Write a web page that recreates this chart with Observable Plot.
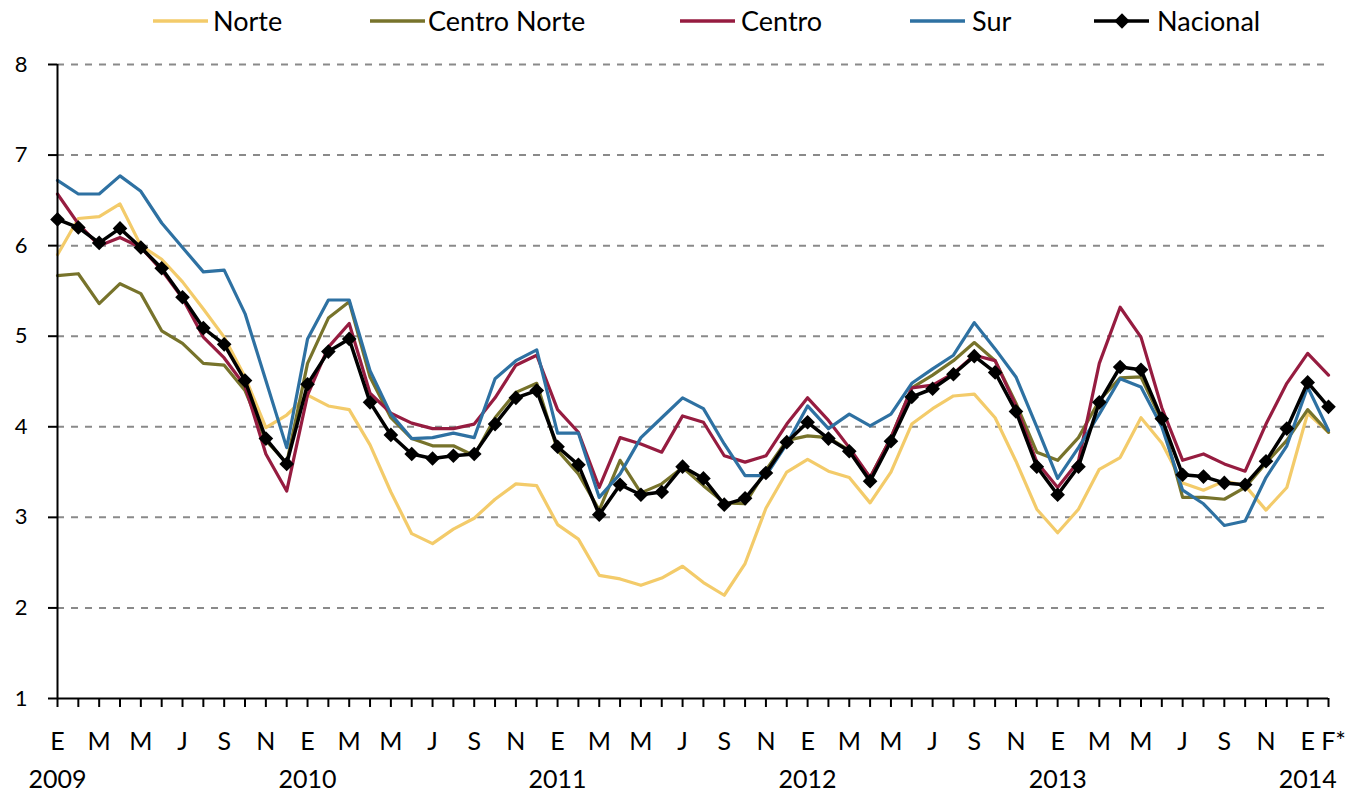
<!DOCTYPE html>
<html>
<head>
<meta charset="utf-8">
<script src="https://cdn.jsdelivr.net/npm/d3@7"></script>
<script src="https://cdn.jsdelivr.net/npm/@observablehq/plot@0.6"></script>
<style>
  html, body { margin: 0; padding: 0; background: #fff; }
  #wrap { width: 1355px; font-family: Lato, "Open Sans", sans-serif; }
</style>
</head>
<body>
<div id="wrap"></div>
<script>
// ---- Data (monthly, Jan 2009 .. Feb 2014) ----
const monthLetters = ["E","F","M","A","M","J","J","A","S","O","N","D"];
const lastMonthLabel = "F*";
const yearLabels = ["2009","2010","2011","2012","2013","2014"];
const yTicks = [1,2,3,4,5,6,7,8];

const seriesNames = ["Norte","Centro Norte","Centro","Sur","Nacional"];
const seriesColors = ["#F3CB6A","#77732B","#961C40","#2E71A2","#000000"];

const norte = [5.90,6.30,6.32,6.46,6.00,5.85,5.60,5.30,4.99,4.55,
  3.99,4.13,4.35,4.23,4.19,3.80,3.28,2.82,2.71,2.87,
  2.99,3.20,3.37,3.35,2.92,2.76,2.36,2.32,2.25,2.33,
  2.46,2.28,2.14,2.49,3.10,3.50,3.64,3.51,3.44,3.16,
  3.50,4.03,4.20,4.34,4.36,4.10,3.62,3.09,2.83,3.09,
  3.53,3.66,4.10,3.82,3.38,3.30,3.40,3.35,3.08,3.33,
  4.15,3.94];
const centroNorte = [5.67,5.69,5.36,5.58,5.47,5.06,4.92,4.70,4.68,4.40,
  3.85,3.60,4.70,5.20,5.38,4.55,4.10,3.87,3.79,3.79,
  3.68,4.10,4.38,4.48,3.74,3.48,3.08,3.63,3.27,3.37,
  3.55,3.35,3.16,3.15,3.52,3.85,3.90,3.88,3.74,3.44,
  3.88,4.43,4.57,4.73,4.93,4.73,4.26,3.72,3.63,3.88,
  4.29,4.54,4.55,4.07,3.22,3.22,3.20,3.33,3.60,3.85,
  4.19,3.94];
const centro = [6.57,6.24,6.00,6.09,5.98,5.73,5.42,4.99,4.76,4.45,
  3.70,3.29,4.35,4.88,5.14,4.37,4.15,4.04,3.98,3.98,
  4.03,4.32,4.68,4.79,4.19,3.94,3.33,3.88,3.81,3.72,
  4.12,4.05,3.68,3.61,3.68,4.03,4.32,4.07,3.77,3.44,
  3.88,4.43,4.46,4.59,4.79,4.73,4.23,3.61,3.33,3.62,
  4.70,5.32,4.99,4.21,3.63,3.70,3.59,3.51,4.03,4.48,
  4.81,4.57];
const sur = [6.72,6.57,6.57,6.77,6.60,6.25,5.98,5.71,5.73,5.25,
  4.51,3.77,4.97,5.40,5.40,4.62,4.14,3.87,3.88,3.93,
  3.88,4.53,4.73,4.85,3.93,3.93,3.22,3.48,3.88,4.10,
  4.32,4.20,3.81,3.46,3.46,3.81,4.23,3.98,4.14,4.01,
  4.14,4.48,4.64,4.79,5.15,4.86,4.55,4.00,3.43,3.77,
  4.14,4.53,4.44,4.00,3.30,3.15,2.91,2.96,3.44,3.79,
  4.44,3.96];
const nacional = [6.29,6.20,6.03,6.19,5.98,5.75,5.43,5.09,4.91,4.51,
  3.87,3.59,4.47,4.83,4.97,4.27,3.91,3.70,3.65,3.68,
  3.70,4.03,4.32,4.40,3.78,3.58,3.03,3.36,3.25,3.28,
  3.56,3.43,3.14,3.21,3.49,3.83,4.05,3.87,3.73,3.40,
  3.84,4.33,4.42,4.58,4.78,4.60,4.17,3.56,3.25,3.56,
  4.27,4.66,4.63,4.09,3.47,3.45,3.38,3.36,3.62,3.98,
  4.49,4.22];

const seriesValues = [norte, centroNorte, centro, sur, nacional];
const n = nacional.length;
const idx = d3.range(n);

const rows = [];
seriesValues.forEach((vals, s) => vals.forEach((v, i) => rows.push({serie: seriesNames[s], i, v})));
const natRows = rows.filter(d => d.serie === "Nacional");

const labelIdx = idx.filter(i => i % 2 === 0);
const yearIdx = yearLabels.map((_, k) => k * 12);

// ---- Legend (SVG above the chart) ----
const legendPos = [
  {lx: 153, tx: 213}, {lx: 370, tx: 428}, {lx: 680, tx: 741},
  {lx: 910, tx: 972}, {lx: 1094, tx: 1157}
];
const legend = d3.create("svg").attr("width", 1355).attr("height", 45)
  .style("display", "block").style("font-family", "Lato, 'Open Sans', sans-serif");
seriesNames.forEach((name, k) => {
  const g = legend.append("g");
  const p = legendPos[k];
  g.append("line").attr("x1", p.lx).attr("x2", p.lx + 55).attr("y1", 21).attr("y2", 21)
    .attr("stroke", seriesColors[k]).attr("stroke-width", 3.5);
  if (name === "Nacional") {
    g.append("path").attr("d", d3.symbol(d3.symbolDiamond2, 150)())
      .attr("transform", `translate(${p.lx + 28},21)`).attr("fill", "#000");
  }
  g.append("text").attr("x", p.tx).attr("y", 31).attr("font-size", 27).attr("fill", "#000").text(name);
});
document.getElementById("wrap").append(legend.node());

// ---- Chart ----
const chart = Plot.plot({
  width: 1355,
  height: 750,
  marginTop: 19,
  marginBottom: 97,
  marginLeft: 57,
  marginRight: 27,
  style: {fontFamily: "Lato, 'Open Sans', sans-serif", color: "#000", background: "#fff"},
  x: {type: "linear", domain: [0, n - 1], label: null},
  y: {domain: [1, 8], label: null},
  color: {domain: seriesNames, range: seriesColors},
  marks: [
    Plot.ruleY(yTicks.filter(t => t > 1), {stroke: "#8a8a8a", strokeWidth: 2, strokeDasharray: "7,7"}),
    Plot.lineY(rows.filter(d => d.serie !== "Nacional"), {x: "i", y: "v", z: "serie", stroke: "serie", strokeWidth: 3.2}),
    Plot.lineY(natRows, {x: "i", y: "v", stroke: "#000", strokeWidth: 3.5}),
    Plot.dot(natRows, {x: "i", y: "v", symbol: "diamond2", r: 6.6, fill: "#000"}),
    Plot.ruleX([0], {stroke: "#000", strokeWidth: 2}),
    Plot.ruleY([1], {stroke: "#000", strokeWidth: 2}),
    Plot.axisY({ticks: yTicks, tickSize: 9, tickPadding: 21, fontSize: 22, label: null, tickFormat: d => String(d), strokeWidth: 2}),
    Plot.axisX({ticks: idx, tickSize: 9, label: null, tickFormat: () => "", strokeWidth: 2}),
    Plot.axisX({ticks: labelIdx, tickSize: 0, tickPadding: 34, fontSize: 25, label: null, tickFormat: i => monthLetters[i % 12]}),
    Plot.axisX({ticks: [n - 1], tickSize: 0, tickPadding: 34, fontSize: 25, label: null, dx: 5, tickFormat: () => lastMonthLabel}),
    Plot.axisX({ticks: yearIdx, tickSize: 0, tickPadding: 72, fontSize: 25, label: null, tickFormat: i => yearLabels[i / 12]})
  ]
});
document.getElementById("wrap").append(chart);
</script>
</body>
</html>
